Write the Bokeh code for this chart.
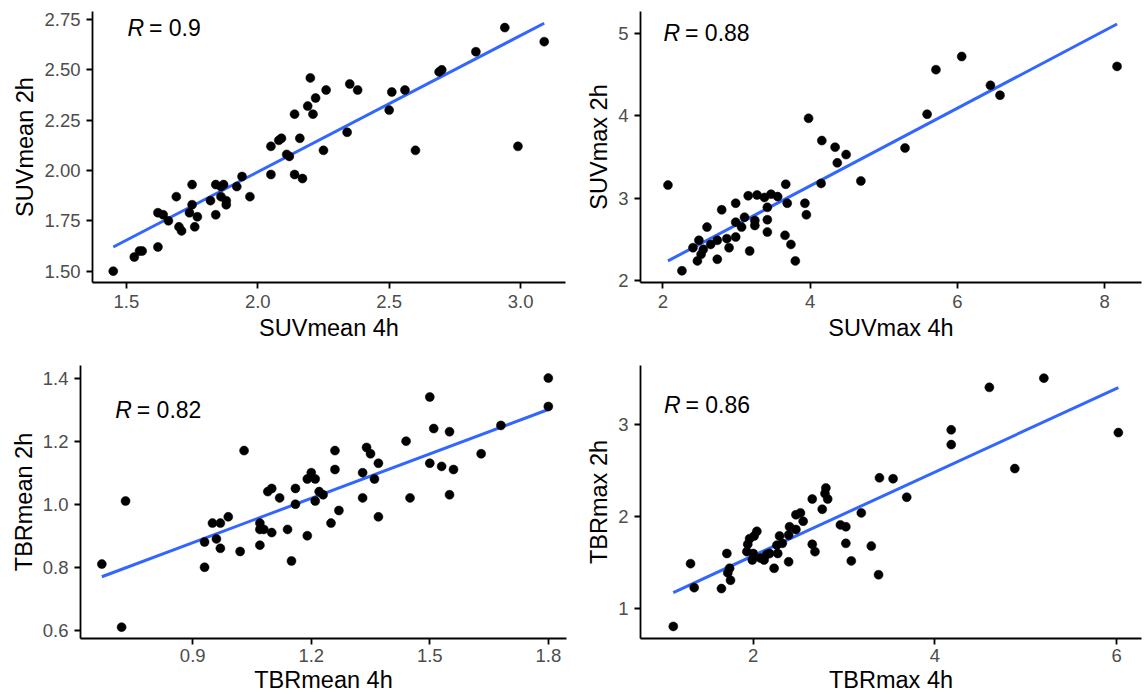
import numpy as np
from bokeh.plotting import figure
from bokeh.layouts import column, row
from bokeh.models import Range1d, FixedTicker, PrintfTickFormatter
from bokeh.core.properties import value
from bokeh.embed import file_html
from bokeh.resources import INLINE

# ---------------- data ----------------
suvmean_4h = [1.45, 1.53, 1.55, 1.56, 1.62, 1.62, 1.64, 1.66, 1.69, 1.70, 1.71, 1.75, 1.75, 1.74,
              1.76, 1.77, 1.82, 1.84, 1.84, 1.86, 1.87, 1.86, 1.88, 1.88, 1.92, 1.94, 1.97, 2.05,
              2.05, 2.08, 2.09, 2.11, 2.12, 2.14, 2.14, 2.16, 2.17, 2.19, 2.20, 2.21, 2.22, 2.25,
              2.26, 2.34, 2.35, 2.38, 2.50, 2.51, 2.56, 2.60, 2.69, 2.70, 2.83, 2.94, 2.99, 3.09]
suvmean_2h = [1.50, 1.57, 1.60, 1.60, 1.62, 1.79, 1.78, 1.75, 1.87, 1.72, 1.70, 1.93, 1.83, 1.79,
              1.72, 1.77, 1.85, 1.93, 1.78, 1.92, 1.93, 1.87, 1.85, 1.83, 1.92, 1.97, 1.87, 2.12,
              1.98, 2.15, 2.16, 2.08, 2.07, 2.28, 1.98, 2.16, 1.96, 2.32, 2.46, 2.28, 2.36, 2.10,
              2.40, 2.19, 2.43, 2.40, 2.30, 2.39, 2.40, 2.10, 2.49, 2.50, 2.59, 2.71, 2.12, 2.64]

suvmax_4h = [2.07, 2.26, 2.47, 2.41, 2.49, 2.52, 2.55, 2.60, 2.65, 2.74, 2.74, 2.80, 2.87, 2.90,
             2.99, 2.99, 2.99, 3.07, 3.11, 3.16, 3.18, 3.25, 3.25, 3.28, 3.38, 3.42, 3.42, 3.42,
             3.47, 3.56, 3.66, 3.67, 3.69, 3.74, 3.80, 3.93, 3.95, 3.98, 4.15, 4.16, 4.34, 4.37,
             4.49, 4.69, 5.29, 5.59, 5.71, 6.06, 6.45, 6.58, 8.17]
suvmax_2h = [3.16, 2.12, 2.24, 2.40, 2.49, 2.32, 2.38, 2.65, 2.44, 2.26, 2.49, 2.86, 2.51, 2.40,
             2.53, 2.94, 2.71, 2.65, 2.77, 3.03, 2.36, 2.67, 2.73, 3.04, 3.01, 2.89, 2.74, 2.59,
             3.05, 3.02, 2.55, 3.17, 2.94, 2.44, 2.24, 2.94, 2.80, 3.97, 3.18, 3.70, 3.62, 3.43,
             3.53, 3.21, 3.61, 4.02, 4.56, 4.72, 4.37, 4.25, 4.60]

tbrmean_4h = [0.67, 0.72, 0.73, 0.93, 0.93, 0.95, 0.96, 0.97, 0.97, 0.99, 1.02, 1.03, 1.07, 1.07,
              1.07, 1.08, 1.09, 1.10, 1.10, 1.12, 1.14, 1.15, 1.16, 1.16, 1.19, 1.19, 1.20, 1.21,
              1.21, 1.22, 1.23, 1.25, 1.26, 1.26, 1.27, 1.33, 1.33, 1.34, 1.35, 1.36, 1.37, 1.37,
              1.44, 1.45, 1.50, 1.50, 1.51, 1.53, 1.55, 1.55, 1.56, 1.63, 1.68, 1.80, 1.80]
tbrmean_2h = [0.81, 0.61, 1.01, 0.88, 0.80, 0.94, 0.89, 0.94, 0.86, 0.96, 0.85, 1.17, 0.94, 0.92,
              0.87, 0.92, 1.04, 1.05, 0.91, 1.02, 0.92, 0.82, 1.05, 1.00, 0.90, 1.08, 1.10, 1.08,
              1.01, 1.04, 1.03, 0.94, 1.17, 1.11, 0.98, 1.10, 1.02, 1.18, 1.16, 1.08, 1.13, 0.96,
              1.20, 1.02, 1.34, 1.13, 1.24, 1.12, 1.23, 1.03, 1.11, 1.16, 1.25, 1.40, 1.31]

tbrmax_4h = [1.12, 1.31, 1.35, 1.65, 1.71, 1.72, 1.74, 1.75, 1.93, 1.94, 1.96, 1.99, 2.00, 2.01,
             2.04, 2.08, 2.12, 2.15, 2.18, 2.23, 2.26, 2.27, 2.29, 2.32, 2.39, 2.39, 2.40, 2.47,
             2.47, 2.52, 2.55, 2.65, 2.65, 2.68, 2.76, 2.79, 2.80, 2.82, 2.96, 3.02, 3.02, 3.08,
             3.19, 3.30, 3.38, 3.39, 3.54, 3.69, 4.18, 4.18, 4.60, 4.88, 5.20, 6.02]
tbrmax_2h = [0.81, 1.49, 1.23, 1.22, 1.60, 1.39, 1.44, 1.31, 1.62, 1.70, 1.76, 1.53, 1.60, 1.79,
             1.84, 1.55, 1.53, 1.59, 1.60, 1.44, 1.69, 1.60, 1.79, 1.71, 1.80, 1.51, 1.89, 1.86,
             2.02, 2.04, 1.95, 2.19, 1.70, 1.62, 2.08, 2.25, 2.31, 2.19, 1.91, 1.89, 1.71, 1.52,
             2.04, 1.68, 1.37, 2.42, 2.41, 2.21, 2.78, 2.94, 3.40, 2.52, 3.50, 2.91]

r_values = ["0.9", "0.88", "0.82", "0.86"]
r_label_x = [1.504, 2.01, 0.704, 1.017]
r_label_y = [2.709, 5.0, 1.30, 3.21]

x_titles = ["SUVmean 4h", "SUVmax 4h", "TBRmean 4h", "TBRmax 4h"]
y_titles = ["SUVmean 2h", "SUVmax 2h", "TBRmean 2h", "TBRmax 2h"]

x_ticks = [[1.5, 2.0, 2.5, 3.0], [2, 4, 6, 8], [0.9, 1.2, 1.5, 1.8], [2, 4, 6]]
y_ticks = [[1.50, 1.75, 2.00, 2.25, 2.50, 2.75], [2, 3, 4, 5], [0.6, 0.8, 1.0, 1.2, 1.4], [1, 2, 3]]
x_fmt = ["%.1f", "%d", "%.1f", "%d"]
y_fmt = ["%.2f", "%d", "%.1f", "%d"]

FONT = "Liberation Sans"


def panel(xs, ys, idx, xr, yr, width, height, bl, br, bt, bb, xs1, xs2):
    p = figure(width=width, height=height, output_backend="svg", toolbar_location=None,
               x_range=Range1d(*xr), y_range=Range1d(*yr),
               min_border_left=bl, min_border_right=br, min_border_top=bt, min_border_bottom=bb)
    p.grid.visible = False
    p.outline_line_color = None
    p.background_fill_color = "white"
    p.border_fill_color = "white"

    for ax in (p.xaxis[0], p.yaxis[0]):
        ax.axis_line_color = "black"
        ax.axis_line_width = 1.8
        ax.major_tick_line_color = "black"
        ax.major_tick_line_width = 1.8
        ax.major_tick_out = 6
        ax.major_tick_in = 0
        ax.minor_tick_line_color = None
        ax.major_label_text_font = FONT
        ax.major_label_text_font_size = "18.5px"
        ax.major_label_text_color = "#4D4D4D"
        ax.axis_label_text_font = FONT
        ax.axis_label_text_font_size = "23.5px"
        ax.axis_label_text_font_style = "normal"
        ax.axis_label_text_color = "black"

    p.xaxis.ticker = FixedTicker(ticks=x_ticks[idx])
    p.yaxis.ticker = FixedTicker(ticks=y_ticks[idx])
    p.xaxis.formatter = PrintfTickFormatter(format=x_fmt[idx])
    p.yaxis.formatter = PrintfTickFormatter(format=y_fmt[idx])
    p.xaxis.major_label_standoff = xs1
    p.yaxis.major_label_standoff = 6
    p.xaxis.axis_label_standoff = xs2
    p.yaxis.axis_label_standoff = 3
    p.xaxis.axis_label = x_titles[idx]
    p.yaxis.axis_label = y_titles[idx]

    xa = np.asarray(xs, dtype=float)
    ya = np.asarray(ys, dtype=float)
    slope, intercept = np.polyfit(xa, ya, 1)
    lx = np.array([xa.min(), xa.max()])
    p.line(lx, slope * lx + intercept, line_color="#3366FF", line_width=3)
    p.scatter(xa, ya, size=9, fill_color="black", line_color="black", line_width=0.5)

    p.text(x=[r_label_x[idx]], y=[r_label_y[idx]], text=["R"],
           text_font=value(FONT), text_font_style="italic", text_font_size="23px",
           text_baseline="middle", text_align="left", text_color="black")
    p.text(x=[r_label_x[idx]], y=[r_label_y[idx]], text=["= " + r_values[idx]],
           x_offset=21.5, text_font=value(FONT), text_font_size="23px",
           text_baseline="middle", text_align="left", text_color="black")
    return p


H1 = 348
H2 = 349
W1 = 583
W2 = 563

p1 = panel(suvmean_4h, suvmean_2h, 0, (1.371, 3.171), (1.4435, 2.790), W1, H1,
           92, 18, 11, H1 - 11 - 271, 6, 4)
p2 = panel(suvmax_4h, suvmax_2h, 1, (1.697, 8.502), (1.978, 5.266), W2, H1,
           57, 5, 10, H1 - 10 - 272, 6, 4)
p3 = panel(tbrmean_4h, tbrmean_2h, 2, (0.616, 1.846), (0.574, 1.44), W1, H2,
           80, 17, 17, H2 - 17 - 273, 4, 2)
p4 = panel(tbrmax_4h, tbrmax_2h, 3, (0.759, 6.275), (0.679, 3.637), W2, H2,
           57, 5, 17, H2 - 17 - 274, 4, 2)

layout = column(row(p1, p2), row(p3, p4))
open("out.html", "w").write(file_html(layout, INLINE))
